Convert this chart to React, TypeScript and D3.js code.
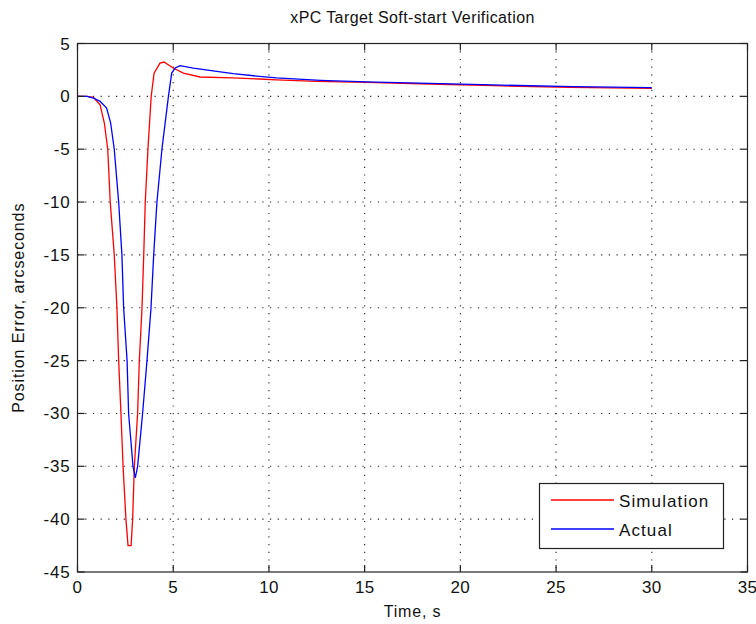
import React from "react";
import * as d3 from "d3";

// Soft-start position error traces (time in s, error in arcseconds)
const simTime = [0, 0.5, 0.83, 1.18, 1.4, 1.58, 1.71, 1.92, 2.06, 2.15, 2.27, 2.38, 2.53, 2.64, 2.8, 2.88, 2.97, 3.14, 3.23, 3.37, 3.46, 3.54, 3.68, 3.85, 4.0, 4.31, 4.52, 5.0, 5.53, 6.4, 8.1, 9.5, 10.4, 12.5, 15.1, 18.4, 21.7, 25.7, 30];
const simError = [0, 0, -0.1, -0.8, -2.5, -5, -10, -15, -20, -25, -30, -35, -40, -42.5, -42.5, -40, -35, -30, -25, -20, -15, -10, -5, 0, 2.2, 3.15, 3.25, 2.68, 2.2, 1.83, 1.74, 1.64, 1.55, 1.42, 1.32, 1.17, 1.01, 0.85, 0.76];

const actTime = [0, 0.5, 0.83, 1.18, 1.52, 1.73, 1.92, 2.15, 2.32, 2.41, 2.59, 2.67, 2.9, 3.02, 3.14, 3.4, 3.63, 3.84, 3.98, 4.15, 4.41, 4.75, 4.92, 5.1, 5.36, 6.05, 7.27, 8.14, 9.5, 10.4, 12.7, 15.1, 18.4, 21.7, 25.9, 30];
const actError = [0, 0, -0.16, -0.47, -1.1, -2.5, -5, -10, -15, -20, -25, -30, -35, -36.1, -35, -30, -25, -20, -15, -10, -5, 0, 2.2, 2.68, 2.9, 2.68, 2.37, 2.15, 1.89, 1.74, 1.51, 1.36, 1.23, 1.08, 0.92, 0.82];

const xTicks = [0, 5, 10, 15, 20, 25, 30, 35];
const yTicks = [5, 0, -5, -10, -15, -20, -25, -30, -35, -40, -45];

const seriesNames = ["Simulation", "Actual"];
const seriesColors = ["#ff0000", "#0000ff"];

const W = 756;
const H = 624;
const left = 77.5;
const right = 747.5;
const top = 43.5;
const bottom = 572;
const FONT = "'Liberation Sans', Arial, Helvetica, sans-serif";

export default function App() {
  const x = d3.scaleLinear().domain([0, 35]).range([left, right]);
  const y = d3.scaleLinear().domain([-45, 5]).range([bottom, top]);

  const line = d3
    .line<[number, number]>()
    .x((d) => x(d[0]))
    .y((d) => y(d[1]));

  const sim: [number, number][] = simTime.map((t, i) => [t, simError[i]]);
  const act: [number, number][] = actTime.map((t, i) => [t, actError[i]]);

  const tickLen = 7;
  const gridDash = "1.2 6.5";

  const lgX0 = 539.5;
  const lgY0 = 483.5;
  const lgW = 184;
  const lgH = 65;
  const lgRows = [500, 529];

  return (
    <div style={{ position: "absolute", left: 0, top: 0, background: "#fff" }}>
      <svg width={W} height={H} style={{ display: "block" }}>
        <rect x={0} y={0} width={W} height={H} fill="#fff" />

        {/* dotted grid */}
        <g stroke="#222" strokeWidth={1.1} strokeDasharray={gridDash}>
          {xTicks
            .filter((t) => t > 0 && t < 35)
            .map((t) => (
              <line key={"gx" + t} x1={x(t)} x2={x(t)} y1={top} y2={bottom} />
            ))}
          {yTicks
            .filter((t) => t < 5 && t > -45)
            .map((t) => (
              <line key={"gy" + t} x1={left} x2={right} y1={y(t)} y2={y(t)} />
            ))}
        </g>

        {/* traces */}
        <path d={line(sim) || ""} fill="none" stroke={seriesColors[0]} strokeWidth={1.3} />
        <path d={line(act) || ""} fill="none" stroke={seriesColors[1]} strokeWidth={1.3} />

        {/* axes box and inward ticks */}
        <g stroke="#222" strokeWidth={1.2} fill="none">
          <rect x={left} y={top} width={right - left} height={bottom - top} />
          {xTicks.map((t) => (
            <g key={"tx" + t}>
              <line x1={x(t)} x2={x(t)} y1={bottom} y2={bottom - tickLen} />
              <line x1={x(t)} x2={x(t)} y1={top} y2={top + tickLen} />
            </g>
          ))}
          {yTicks.map((t) => (
            <g key={"ty" + t}>
              <line x1={left} x2={left + tickLen} y1={y(t)} y2={y(t)} />
              <line x1={right} x2={right - tickLen} y1={y(t)} y2={y(t)} />
            </g>
          ))}
        </g>

        {/* tick labels */}
        <g fontFamily={FONT} fontSize={17} fill="#111">
          {xTicks.map((t) => (
            <text key={"lx" + t} x={x(t)} y={bottom + 21} textAnchor="middle" letterSpacing={0.3}>
              {t}
            </text>
          ))}
          {yTicks.map((t) => (
            <text key={"ly" + t} x={left - 7} y={y(t) + 6} textAnchor="end" letterSpacing={0.8}>
              {t}
            </text>
          ))}
        </g>

        {/* title and axis labels */}
        <text x={(left + right) / 2} y={23} textAnchor="middle" fontFamily={FONT} fontSize={16} fill="#111" letterSpacing={0.4}>
          xPC Target Soft-start Verification
        </text>
        <text x={(left + right) / 2} y={617} textAnchor="middle" fontFamily={FONT} fontSize={16} fill="#111" letterSpacing={0.8}>
          Time, s
        </text>
        <text
          transform={`translate(24, ${(top + bottom) / 2}) rotate(-90)`}
          textAnchor="middle"
          fontFamily={FONT}
          fontSize={16}
          fill="#111"
          letterSpacing={0.9}
        >
          Position Error, arcseconds
        </text>

        {/* legend */}
        <rect x={lgX0} y={lgY0} width={lgW} height={lgH} fill="#fff" stroke="#222" strokeWidth={1.2} />
        {seriesNames.map((name, i) => (
          <g key={name}>
            <line x1={551} x2={614} y1={lgRows[i]} y2={lgRows[i]} stroke={seriesColors[i]} strokeWidth={1.3} />
            <text x={619} y={lgRows[i] + 6.5} fontFamily={FONT} fontSize={17} fill="#111" letterSpacing={1.1}>
              {name}
            </text>
          </g>
        ))}
      </svg>
    </div>
  );
}
